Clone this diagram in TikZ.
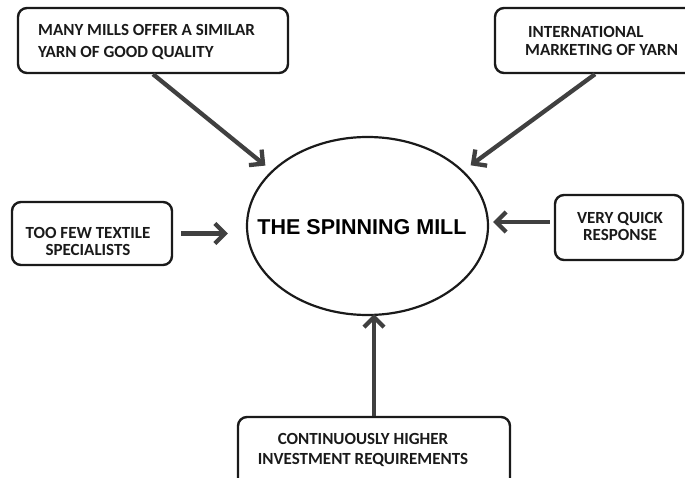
\documentclass[tikz,border=0pt]{standalone}
\usepackage{fontspec}
\setmainfont{Carlito}
\newfontfamily\arialfont{Liberation Sans}
\usetikzlibrary{arrows.meta,shapes.geometric}
\definecolor{arrowgray}{HTML}{404040}
\definecolor{inkdark}{HTML}{1A1A1A}
\begin{document}
\begin{tikzpicture}[x=1pt,y=-1pt,
  box/.style={draw=inkdark,line width=2.4pt,rounded corners=9pt,inner sep=0pt},
  lbl/.style={text=inkdark,inner sep=0pt},
  conn/.style={draw=arrowgray,line width=4.3pt,-{Straight Barb[length=10pt,width=20pt]}}]
\useasboundingbox (0,0) rectangle (685,478);
\clip (0,0) rectangle (685,478);
% boxes
\node[box,minimum width=270pt,minimum height=65pt] (b1) at (153,40.5) {};
\node[lbl,align=left,anchor=west,font=\fontsize{17}{21.5}\selectfont\bfseries] (t1) at (38,42) {MANY MILLS OFFER A SIMILAR\\YARN OF GOOD QUALITY};
\node[box,minimum width=200pt,minimum height=65pt] (b2) at (595,40.5) {};
\node[lbl,align=left,anchor=west,font=\fontsize{17}{18.5}\selectfont\bfseries] (t2) at (525,41) {\hspace*{3pt}INTERNATIONAL\\MARKETING OF YARN};
\node[box,minimum width=160pt,minimum height=63pt] (b3) at (92,233.5) {};
\node[lbl,align=center,font=\fontsize{17}{17}\selectfont\bfseries] (t3) at (88,241.5) {TOO FEW TEXTILE\\SPECIALISTS};
\node[box,minimum width=128pt,minimum height=65pt] (b4) at (619,227.5) {};
\node[lbl,align=center,font=\fontsize{17}{17}\selectfont\bfseries] (t4) at (620,226.5) {VERY QUICK\\RESPONSE};
\node[box,minimum width=272pt,minimum height=80pt] (b5) at (374,457) {};
\node[lbl,align=center,font=\fontsize{17}{20}\selectfont\bfseries] (t5) at (363,450) {CONTINUOUSLY HIGHER\\INVESTMENT REQUIREMENTS};
% centre
\node[draw=inkdark,ellipse,line width=2.2pt,minimum width=241pt,minimum height=178pt,inner sep=0pt] (ell) at (367.5,226) {};
\node[lbl,font=\arialfont\fontsize{21.5}{24}\selectfont\bfseries,text=black] (tm) at (362,227) {THE SPINNING MILL};
% connectors
\draw[conn,shorten >=8pt] (b1.south) -- (ell.150);
\draw[conn,shorten >=9pt] (b2.south) -- (ell.30);
\draw[conn,shorten <=8pt,shorten >=18pt] (b3.east) -- (ell.west |- b3.east);
\draw[conn,shorten <=4pt,shorten >=4pt] ([yshift=5.5pt]b4.west) -- ([yshift=4pt]ell.east);
\draw[conn,shorten >=-2pt] (b5.north) -- (b5.north |- ell.south);
\end{tikzpicture}
\end{document}
